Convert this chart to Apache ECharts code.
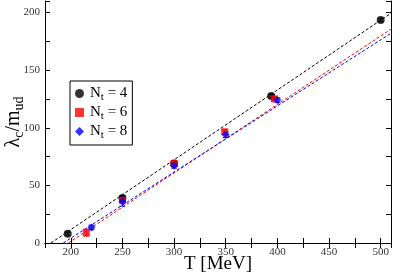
<!DOCTYPE html>
<html><head><meta charset="utf-8">
<script src="https://cdn.jsdelivr.net/npm/echarts@6/dist/echarts.min.js"></script>
<style>html,body{margin:0;padding:0;background:#fff}#c{width:393px;height:274px}</style>
</head><body><div id="c"></div>
<script>
// Data
const nt4 = [[197, 8], [250, 39], [300, 69], [394, 127.5], [500, 193.5]];
const nt4Err = [1.5, 2, 1.5, 1.5, 1.5];
const nt6 = [[215, 9], [250, 37], [300, 69], [349, 96.5], [397, 125]];
const nt6Err = [3, 2, 2, 2, 1.5];
const nt8 = [[220, 13.5], [250, 36], [300, 67], [350, 94], [400, 124]];
const nt8Err = [2, 4, 2, 2.5, 2];
const fit4 = [[180.8, 0], [511, 200]];
const fit6 = [[197.6, 0], [511, 186.2]];
const fit8 = [[192.7, 0], [511, 182.6]];
const seriesNames = ['4', '6', '8'];
const xTicks = [200, 250, 300, 350, 400, 450, 500];
const yTicks = [0, 50, 100, 150, 200];

const serif = 'Liberation Serif';
const colors = ['#000000', '#ff0000', '#0000ff'];
function errData(pts, errs) { return pts.map((p, i) => [p[0], p[1] - errs[i], p[1] + errs[i]]); }
function errSeries(pts, errs, color) {
  return {
    type: 'custom', xAxisIndex: 0, yAxisIndex: 0, silent: true, z: 3,
    data: errData(pts, errs),
    renderItem: function (params, api) {
      const lo = api.coord([api.value(0), api.value(1)]);
      const hi = api.coord([api.value(0), api.value(2)]);
      const w = 3;
      const st = { stroke: color, lineWidth: 1 };
      return { type: 'group', children: [
        { type: 'line', shape: { x1: lo[0], y1: lo[1], x2: hi[0], y2: hi[1] }, style: st },
        { type: 'line', shape: { x1: lo[0] - w, y1: lo[1], x2: lo[0] + w, y2: lo[1] }, style: st },
        { type: 'line', shape: { x1: hi[0] - w, y1: hi[1], x2: hi[0] + w, y2: hi[1] }, style: st }
      ]};
    }
  };
}
const axisCommon = {
  axisLine: { lineStyle: { color: '#000', width: 1 } },
  axisTick: { inside: true, length: 5, lineStyle: { color: '#000' } },
  minorTick: { show: false },
  splitLine: { show: false }
};
const chart = echarts.init(document.getElementById('c'), null, { renderer: 'canvas' });
chart.setOption({
  animation: false,
  backgroundColor: '#fff',
  grid: { left: 45, right: 2, top: 1, bottom: 31, containLabel: false, outerBoundsMode: 'none' },
  xAxis: [
    Object.assign({ type: 'value', min: 175, max: 510, interval: 25,
      axisLabel: { fontFamily: serif, fontSize: 11, color: '#333', margin: 4,
        formatter: v => xTicks.includes(v) ? String(v) : '' },
      name: 'T [MeV]', nameLocation: 'middle', nameGap: 21, nameMoveOverlap: false,
      nameTextStyle: { fontFamily: serif, fontSize: 19, color: '#000', verticalAlign: 'middle' } }, axisCommon),
    Object.assign({ type: 'value', min: 175, max: 510, interval: 25, position: 'top',
      axisLabel: { show: false } }, axisCommon)
  ],
  yAxis: [
    Object.assign({ type: 'value', min: 0, max: 210, interval: 25,
      axisLabel: { fontFamily: serif, fontSize: 11, color: '#333', margin: 5,
        formatter: v => yTicks.includes(v) ? String(v) : '' },
      name: '{a|λ}{s|c}{a|/m}{s|ud}', nameLocation: 'middle', nameGap: 31, nameMoveOverlap: false,
      nameTextStyle: { fontFamily: serif, fontSize: 20, color: '#000', verticalAlign: 'middle',
        rich: { a: { fontFamily: serif, fontSize: 20 }, s: { fontFamily: serif, fontSize: 14, padding: [10, 0, 0, 0] } } } }, axisCommon),
    Object.assign({ type: 'value', min: 0, max: 210, interval: 25, position: 'right',
      axisLabel: { show: false } }, axisCommon)
  ],
  legend: {
    data: seriesNames.map(n => 'Nt' + n),
    orient: 'vertical', left: 70, top: 81,
    backgroundColor: '#fff', borderColor: '#000', borderWidth: 1, borderRadius: 0,
    padding: [5, 5, 4, 5], itemGap: 2, itemWidth: 9, itemHeight: 9,
    formatter: name => '{a|N}{s|t}{a| = ' + name.slice(2) + '}',
    textStyle: { fontFamily: serif, fontSize: 15, color: '#000', padding: [0, 0, 0, 1],
      rich: { a: { fontFamily: serif, fontSize: 15, height: 18 }, s: { fontFamily: serif, fontSize: 11, padding: [8, 0, 0, 0] } } }
  },
  series: [
    { type: 'line', data: fit4, symbol: 'none', lineStyle: { color: colors[0], width: 1, type: [3, 2] }, z: 1, silent: true },
    { type: 'line', data: fit6, symbol: 'none', lineStyle: { color: colors[1], width: 1, type: [3, 2] }, z: 1, silent: true },
    { type: 'line', data: fit8, symbol: 'none', lineStyle: { color: colors[2], width: 1, type: [3, 2] }, z: 1, silent: true },
    errSeries(nt4, nt4Err, colors[0]),
    errSeries(nt6, nt6Err, colors[1]),
    errSeries(nt8, nt8Err, colors[2]),
    { name: 'Nt' + seriesNames[0], type: 'scatter', data: nt4, symbol: 'circle', symbolSize: 8, itemStyle: { color: colors[0] }, z: 4 },
    { name: 'Nt' + seriesNames[1], type: 'scatter', data: nt6, symbol: 'rect', symbolSize: 7, itemStyle: { color: colors[1] }, z: 4 },
    { name: 'Nt' + seriesNames[2], type: 'scatter', data: nt8, symbol: 'diamond', symbolSize: 8, itemStyle: { color: colors[2] }, z: 4 }
  ]
});
</script></body></html>
